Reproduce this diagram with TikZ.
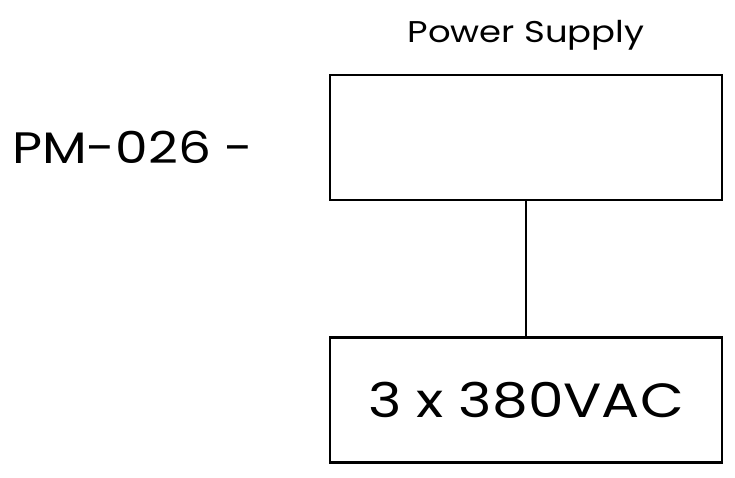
\documentclass[tikz,border=0pt]{standalone}
\usepackage{fontspec}
\setmainfont{Poppins}[FakeStretch=1.18]
\begin{document}
\begin{tikzpicture}[x=1pt,y=1pt,
  box/.style={draw,line width=2.5pt,minimum width=392pt,minimum height=125pt,inner sep=0pt}]
\useasboundingbox (0,0) rectangle (735,477);
\node[box] (ps) at (526,339.5) {};
\node[box,font=\fontsize{48}{50}\selectfont] (ac) at (526,77) {3 x 380VAC};
\draw[line width=2.5pt] (ps.south) -- (ac.north);
\node[font=\fontsize{30}{32}\selectfont,anchor=base] (lbl) at (526,434) {Power Supply};
\node[font=\fontsize{44}{46}\selectfont,anchor=base west,inner sep=0pt] (pm) at (12,313) {PM-026 -};
\end{tikzpicture}
\end{document}
